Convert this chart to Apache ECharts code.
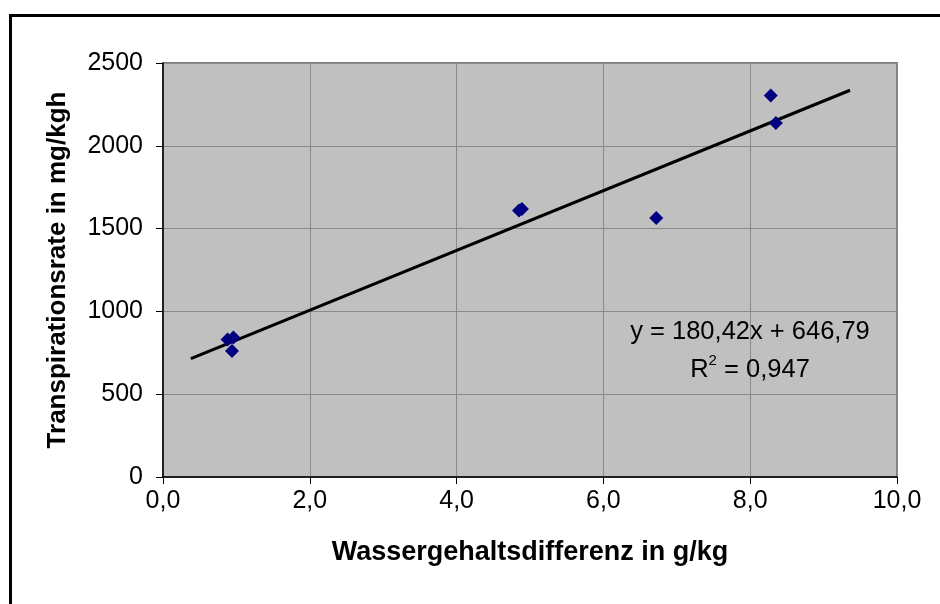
<!DOCTYPE html>
<html>
<head>
<meta charset="utf-8">
<script src="https://cdn.jsdelivr.net/npm/echarts@6/dist/echarts.min.js"></script>
<style>
html,body{margin:0;padding:0;background:#fff;}
#c{width:940px;height:604px;}
</style>
</head>
<body>
<div id="c"></div>
<script>
// Data
var xValues = [0.88, 0.96, 0.94, 4.85, 4.89, 6.72, 8.28, 8.35];
var yValues = [831, 843, 761, 1610, 1618, 1564, 2303, 2137];
// Trendline (linear regression shown on the chart)
var slope = 180.42;
var intercept = 646.79;
var trendRange = [0.38, 9.36];
var xTicks = { min: 0, max: 10, interval: 2 };
var yTicks = { min: 0, max: 2500, interval: 500 };
var equationText = 'y = 180,42x + 646,79';
var r2Text = ' = 0,947';

var points = xValues.map(function (x, i) { return [x, yValues[i]]; });
var trend = trendRange.map(function (x) { return [x, slope * x + intercept]; });

var chart = echarts.init(document.getElementById('c'));
var font = '"Liberation Sans", Arial, sans-serif';
chart.setOption({
  animation: false,
  backgroundColor: '#ffffff',
  grid: {
    left: 163, right: 43, top: 63, bottom: 127,
    show: true, backgroundColor: '#C0C0C0', borderColor: '#808080', borderWidth: 2
  },
  xAxis: {
    type: 'value', min: xTicks.min, max: xTicks.max, interval: xTicks.interval,
    name: 'Wassergehaltsdifferenz in g/kg', nameLocation: 'middle', nameGap: 62,
    nameTextStyle: { fontFamily: font, fontWeight: 'bold', fontSize: 27, color: '#000' },
    axisLine: { show: true, onZero: false, lineStyle: { color: '#000', width: 1.5 } },
    axisTick: { show: true, inside: false, length: 7, lineStyle: { color: '#000' } },
    axisLabel: { fontFamily: font, fontSize: 25, color: '#000', margin: 12,
      formatter: function (v) { return v.toFixed(1).replace('.', ','); } },
    splitLine: { show: true, lineStyle: { color: '#8a8a8a', width: 1 } }
  },
  yAxis: {
    type: 'value', min: yTicks.min, max: yTicks.max, interval: yTicks.interval,
    name: 'Transpirationsrate in mg/kgh', nameLocation: 'middle', nameGap: 92,
    nameTextStyle: { fontFamily: font, fontWeight: 'bold', fontSize: 26, color: '#000' },
    axisLine: { show: true, onZero: false, lineStyle: { color: '#000', width: 1.5 } },
    axisTick: { show: true, inside: false, length: 7, lineStyle: { color: '#000' } },
    axisLabel: { fontFamily: font, fontSize: 25, color: '#000', margin: 20,
      formatter: function (v) { return String(v); } },
    splitLine: { show: true, lineStyle: { color: '#8a8a8a', width: 1 } }
  },
  series: [
    {
      type: 'line', data: trend, symbol: 'none', z: 3,
      lineStyle: { color: '#000', width: 3 }
    },
    {
      type: 'scatter', data: points, symbol: 'diamond', symbolSize: 14, z: 4,
      itemStyle: { color: '#000080', opacity: 1 }
    }
  ],
  graphic: [
    {
      type: 'rect', left: 8, top: 13, z: 100, silent: true,
      shape: { width: 1000, height: 800 },
      style: { fill: 'none', stroke: '#000', lineWidth: 3 }
    },
    {
      type: 'text', x: 750, y: 332, z: 50,
      style: { text: equationText, font: '25.5px ' + font, fill: '#000', align: 'center', verticalAlign: 'middle' }
    },
    {
      type: 'text', x: 750, y: 368, z: 50,
      style: {
        text: '{a|R}{s|2}{a|' + r2Text + '}', align: 'center', verticalAlign: 'middle',
        rich: {
          a: { fontFamily: font, fontSize: 25.5, color: '#000', verticalAlign: 'bottom' },
          s: { fontFamily: font, fontSize: 15, color: '#000', verticalAlign: 'bottom', padding: [0, 0, 14, 0] }
        }
      }
    }
  ]
});
</script>
</body>
</html>
